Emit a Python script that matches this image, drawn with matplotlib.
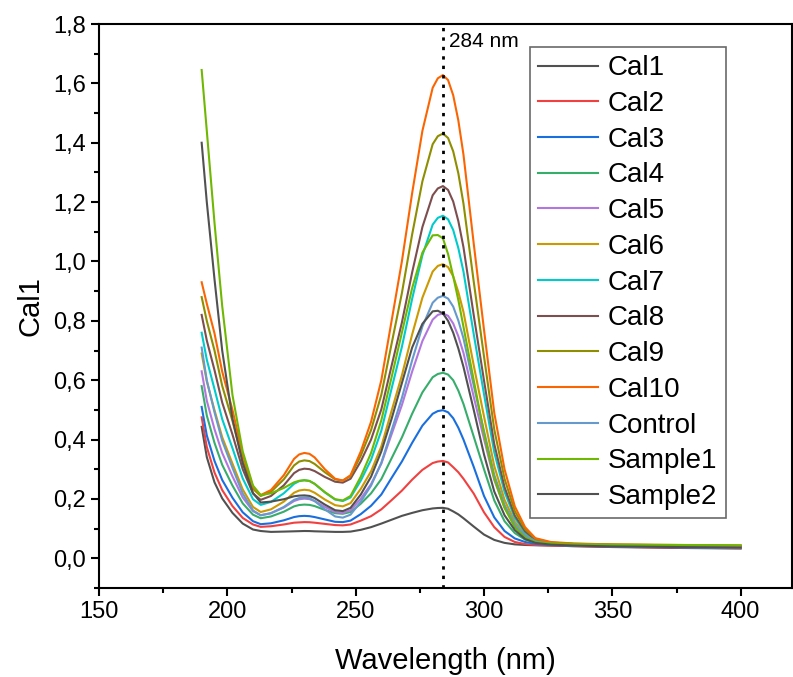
import matplotlib
matplotlib.use("Agg")
import matplotlib.pyplot as plt
from matplotlib.ticker import MultipleLocator, FuncFormatter

plt.rcParams['font.family'] = ['Liberation Sans', 'DejaVu Sans']

# wavelength grid (nm)
wl = [190, 192, 195, 198, 202, 206, 210, 213, 217, 222, 226, 228, 230, 232, 234, 238, 242, 245,
      248, 252, 256, 260, 264, 268, 272, 276, 280, 282, 284, 286, 288, 290, 292, 296, 300, 304, 308,
      312, 316, 320, 326, 335, 350, 375, 400]

cal1 = [0.443, 0.341, 0.256, 0.202, 0.153, 0.117, 0.097, 0.092, 0.089, 0.090, 0.091, 0.0915, 0.092, 0.0918, 0.091, 0.090, 0.089, 0.089,
        0.090, 0.096, 0.105, 0.117, 0.130, 0.143, 0.153, 0.162, 0.168, 0.1695, 0.170, 0.167, 0.158, 0.148, 0.135, 0.107, 0.080, 0.062, 0.052,
        0.047, 0.045, 0.044, 0.043, 0.041, 0.038, 0.035, 0.033]
cal2 = [0.475, 0.375, 0.289, 0.230, 0.176, 0.136, 0.114, 0.106, 0.108, 0.114, 0.120, 0.121, 0.122, 0.1216, 0.120, 0.116, 0.112, 0.111,
        0.114, 0.127, 0.142, 0.165, 0.196, 0.228, 0.265, 0.298, 0.321, 0.326, 0.328, 0.323, 0.307, 0.290, 0.268, 0.218, 0.155, 0.105, 0.072,
        0.055, 0.048, 0.045, 0.043, 0.041, 0.039, 0.036, 0.034]
cal3 = [0.510, 0.414, 0.328, 0.264, 0.204, 0.155, 0.125, 0.115, 0.118, 0.128, 0.139, 0.142, 0.143, 0.142, 0.139, 0.131, 0.123, 0.122,
        0.127, 0.149, 0.177, 0.215, 0.271, 0.326, 0.389, 0.447, 0.487, 0.496, 0.499, 0.492, 0.472, 0.440, 0.400, 0.308, 0.210, 0.138, 0.092,
        0.067, 0.055, 0.049, 0.045, 0.042, 0.040, 0.037, 0.035]
cal4 = [0.580, 0.481, 0.389, 0.315, 0.245, 0.185, 0.147, 0.135, 0.141, 0.157, 0.175, 0.1795, 0.181, 0.180, 0.176, 0.163, 0.152, 0.150,
        0.156, 0.184, 0.219, 0.267, 0.337, 0.407, 0.487, 0.559, 0.610, 0.621, 0.625, 0.619, 0.600, 0.565, 0.520, 0.410, 0.300, 0.195, 0.125,
        0.085, 0.063, 0.053, 0.047, 0.043, 0.041, 0.038, 0.036]
cal5 = [0.630, 0.531, 0.435, 0.355, 0.276, 0.205, 0.159, 0.145, 0.152, 0.171, 0.193, 0.199, 0.201, 0.1994, 0.193, 0.173, 0.156, 0.153,
        0.162, 0.201, 0.250, 0.319, 0.418, 0.516, 0.629, 0.732, 0.804, 0.820, 0.825, 0.817, 0.791, 0.748, 0.692, 0.544, 0.402, 0.264, 0.171,
        0.109, 0.075, 0.057, 0.049, 0.045, 0.042, 0.039, 0.037]
cal6 = [0.690, 0.596, 0.499, 0.408, 0.319, 0.232, 0.173, 0.156, 0.165, 0.191, 0.221, 0.2285, 0.231, 0.229, 0.221, 0.198, 0.179, 0.175,
        0.186, 0.234, 0.293, 0.377, 0.497, 0.616, 0.754, 0.878, 0.966, 0.985, 0.991, 0.981, 0.950, 0.897, 0.830, 0.650, 0.478, 0.311, 0.197,
        0.123, 0.081, 0.059, 0.050, 0.046, 0.043, 0.040, 0.038]
cal7 = [0.760, 0.669, 0.570, 0.469, 0.371, 0.269, 0.199, 0.180, 0.190, 0.219, 0.251, 0.260, 0.263, 0.2606, 0.251, 0.222, 0.198, 0.193,
        0.205, 0.262, 0.332, 0.430, 0.572, 0.712, 0.874, 1.021, 1.124, 1.147, 1.154, 1.142, 1.106, 1.045, 0.966, 0.755, 0.553, 0.357, 0.224,
        0.136, 0.087, 0.062, 0.051, 0.047, 0.044, 0.041, 0.039]
cal8 = [0.820, 0.734, 0.634, 0.525, 0.417, 0.300, 0.218, 0.197, 0.210, 0.246, 0.287, 0.298, 0.302, 0.3004, 0.294, 0.274, 0.258, 0.255,
        0.268, 0.327, 0.400, 0.502, 0.649, 0.794, 0.963, 1.116, 1.223, 1.246, 1.254, 1.241, 1.202, 1.136, 1.048, 0.819, 0.599, 0.385, 0.240,
        0.144, 0.091, 0.063, 0.052, 0.048, 0.045, 0.042, 0.040]
cal9 = [0.880, 0.800, 0.700, 0.581, 0.463, 0.329, 0.234, 0.210, 0.224, 0.266, 0.313, 0.326, 0.330, 0.3276, 0.318, 0.290, 0.266, 0.262,
        0.277, 0.346, 0.432, 0.551, 0.723, 0.893, 1.091, 1.270, 1.395, 1.422, 1.431, 1.416, 1.371, 1.297, 1.195, 0.932, 0.680, 0.434, 0.268,
        0.159, 0.098, 0.066, 0.053, 0.049, 0.046, 0.044, 0.042]
cal10 = [0.930, 0.858, 0.758, 0.629, 0.500, 0.349, 0.240, 0.213, 0.230, 0.280, 0.335, 0.350, 0.355, 0.352, 0.340, 0.300, 0.268, 0.262,
         0.280, 0.360, 0.460, 0.600, 0.800, 1.000, 1.230, 1.440, 1.585, 1.617, 1.628, 1.611, 1.560, 1.475, 1.360, 1.060, 0.770, 0.490, 0.300,
         0.175, 0.105, 0.068, 0.055, 0.050, 0.047, 0.045, 0.043]
control = [0.710, 0.600, 0.492, 0.396, 0.305, 0.218, 0.161, 0.145, 0.152, 0.173, 0.197, 0.203, 0.205, 0.2026, 0.193, 0.165, 0.141, 0.137,
           0.147, 0.191, 0.245, 0.322, 0.431, 0.540, 0.667, 0.781, 0.861, 0.878, 0.884, 0.875, 0.848, 0.801, 0.741, 0.582, 0.429, 0.281, 0.180,
           0.114, 0.077, 0.058, 0.049, 0.044, 0.041, 0.038, 0.036]
sample1 = [1.645, 1.440, 1.130, 0.850, 0.550, 0.360, 0.245, 0.213, 0.219, 0.237, 0.256, 0.2613, 0.263, 0.2606, 0.251, 0.223, 0.199, 0.195,
           0.210, 0.275, 0.355, 0.465, 0.610, 0.760, 0.910, 1.030, 1.088, 1.089, 1.078, 1.025, 0.950, 0.870, 0.780, 0.600, 0.420, 0.270, 0.170,
           0.105, 0.070, 0.055, 0.050, 0.048, 0.046, 0.045, 0.044]
sample2 = [1.400, 1.200, 0.940, 0.700, 0.470, 0.320, 0.220, 0.188, 0.191, 0.199, 0.209, 0.2112, 0.212, 0.2102, 0.203, 0.181, 0.162, 0.159,
           0.170, 0.215, 0.275, 0.360, 0.470, 0.590, 0.710, 0.790, 0.832, 0.834, 0.825, 0.800, 0.760, 0.707, 0.645, 0.500, 0.350, 0.225, 0.145,
           0.095, 0.065, 0.052, 0.046, 0.043, 0.040, 0.038, 0.036]

labels = ['Cal1', 'Cal2', 'Cal3', 'Cal4', 'Cal5', 'Cal6', 'Cal7', 'Cal8', 'Cal9', 'Cal10',
          'Control', 'Sample1', 'Sample2']
series = [cal1, cal2, cal3, cal4, cal5, cal6, cal7, cal8, cal9, cal10, control, sample1, sample2]
colors = ['#515151', '#F14040', '#1A6FDF', '#37AD6B', '#B177DE', '#CC9900', '#00CBCC',
          '#7D4E4E', '#8E8E00', '#FB6501', '#6699CC', '#6FB802', '#515151']
peak_nm = 284

fig = plt.figure(figsize=(7.93, 6.77), dpi=100)
ax = fig.add_axes([99/793, 1-588/677, 693/793, 564/677])

for y, lab, c in zip(series, labels, colors):
    ax.plot(wl, y, color=c, lw=1.5, label=lab, solid_joinstyle='round')

ax.axvline(peak_nm, color='black', ls=(0, (1.2, 2.2)), lw=2)
ax.text(peak_nm + 2.5, 1.74, '284 nm', fontsize=15, va='center', ha='left')

ax.set_xlim(150, 420)
ax.set_ylim(-0.1, 1.8)
ax.xaxis.set_major_locator(MultipleLocator(50))
ax.xaxis.set_minor_locator(MultipleLocator(25))
ax.yaxis.set_major_locator(MultipleLocator(0.2))
ax.yaxis.set_minor_locator(MultipleLocator(0.1))
ax.yaxis.set_major_formatter(FuncFormatter(lambda v, p: f'{v:.1f}'.replace('.', ',')))
ax.tick_params(which='major', direction='out', length=6, width=1.5, labelsize=17)
ax.tick_params(which='minor', direction='out', length=3.5, width=1.5)
for s in ax.spines.values():
    s.set_linewidth(1.5)

ax.set_xlabel('Wavelength (nm)', fontsize=21, labelpad=17)
ax.set_ylabel('Cal1', fontsize=21, labelpad=6)

leg = ax.legend(loc='upper left', bbox_to_anchor=(530/793, 1-47/677), bbox_transform=fig.transFigure,
                borderaxespad=0, fontsize=20, frameon=True, fancybox=False, handlelength=2.15,
                labelspacing=0.35, handletextpad=0.35, borderpad=0.3)
leg.get_frame().set_edgecolor('#444444')
leg.get_frame().set_linewidth(1.2)

fig.savefig('out.png', dpi=100)
